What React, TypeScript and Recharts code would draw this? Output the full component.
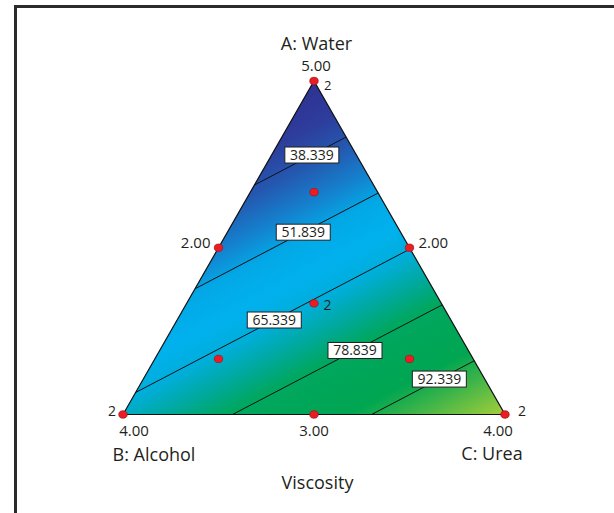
import React from 'react';
import { ComposedChart, Area, Line, Scatter, XAxis, YAxis } from 'recharts';

// mixture components and response
const TITLE_TEXT = ['A: Water', 'B: Alcohol', 'C: Urea', 'Viscosity'];

// linear mixture model: predicted viscosity at pure A, B and C
const VERTEX_VALUES = [24.8, 68.2, 105.3];
const CONTOUR_LEVELS = [38.339, 51.839, 65.339, 78.839, 92.339];

// design points as (a, b, c) fractions, with replicate counts
const DESIGN_A = [1, 0, 0, 0.5, 0.5, 0, 1 / 3, 2 / 3, 1 / 6, 1 / 6];
const DESIGN_B = [0, 1, 0, 0.5, 0, 0.5, 1 / 3, 1 / 6, 2 / 3, 1 / 6];
const DESIGN_C = [0, 0, 1, 0, 0.5, 0.5, 1 / 3, 1 / 6, 1 / 6, 2 / 3];
const DESIGN_REPS = [2, 2, 2, 1, 1, 1, 2, 1, 1, 1];

// axis values in actual units and the (a, b, c) point each one marks
const TICK_TEXT = ['5.00', '2.00', '2.00', '4.00', '3.00', '4.00'];
const TICK_A = [1, 0.5, 0.5, 0, 0, 0];
const TICK_B = [0, 0.5, 0, 1, 0.5, 0];
const TICK_C = [0, 0, 0.5, 0, 0.5, 1];

// ---- layout / style ----
const W = 614;
const HT = 513;
const MARGIN = { top: 81, right: 109, bottom: 98.5, left: 123 };
const H = Math.sqrt(3) / 2;
const FONT = '"Open Sans", "Noto Sans", sans-serif';
const INK = '#231f20';

// where the title and tick texts sit relative to their anchor (px)
const TITLE_ANCHORS = [[1, 0, 0], [0, 1, 0], [0, 0, 1], [0, 0.5, 0.5]];
const TITLE_OFFSETS = [[2.5, -31.5], [31, 46], [-13, 45], [3.5, 74]];
const TICK_OFFSETS = [
  [2, -10, 'middle'],
  [-8, 0, 'end'],
  [9, 0, 'start'],
  [11, 21, 'middle'],
  [0, 21, 'middle'],
  [-7, 21, 'middle'],
];
// position of each contour label along its line (0..1)
const LABEL_T = [0.626, 0.591, 0.505, 0.584, 0.66];

// colour scale over the response
const COLOR_STOPS: [number, string][] = [
  [24.8, '#2e3192'],
  [33, '#2e3d9c'],
  [40, '#2458b0'],
  [47, '#1580cd'],
  [53, '#03a8e6'],
  [60, '#00b1ee'],
  [66, '#00aedb'],
  [72, '#00a99f'],
  [78, '#00a75f'],
  [90, '#00a651'],
  [96, '#3db449'],
  [105.3, '#a6ce39'],
];

const toXY = (a: number, b: number, c: number) => ({ x: c + a / 2, y: a * H });
const px = (x: number) => MARGIN.left + x * (W - MARGIN.left - MARGIN.right);
const py = (y: number) => MARGIN.top + (1 - y / H) * (HT - MARGIN.top - MARGIN.bottom);

const VERTS = [toXY(1, 0, 0), toXY(0, 1, 0), toXY(0, 0, 1)];

const triangleFill = [VERTS[1], VERTS[0], VERTS[2]];
const triangleEdge = [VERTS[1], VERTS[0], VERTS[2], VERTS[1]];

// contour segments where the model crosses each level on the triangle edges
const EDGES = [[0, 1], [0, 2], [1, 2]];
const contours = CONTOUR_LEVELS.map((level) => {
  const pts: { x: number; y: number }[] = [];
  EDGES.forEach(([i, j]) => {
    const vi = VERTEX_VALUES[i];
    const vj = VERTEX_VALUES[j];
    const t = (level - vi) / (vj - vi);
    if (t >= 0 && t <= 1) {
      pts.push({
        x: VERTS[i].x + t * (VERTS[j].x - VERTS[i].x),
        y: VERTS[i].y + t * (VERTS[j].y - VERTS[i].y),
      });
    }
  });
  return pts.sort((p, q) => p.x - q.x);
});

const contourLabels = contours.map((seg, k) => ({
  x: seg[0].x + LABEL_T[k] * (seg[1].x - seg[0].x),
  y: seg[0].y + LABEL_T[k] * (seg[1].y - seg[0].y),
  text: CONTOUR_LEVELS[k].toFixed(3),
}));

const designPoints = DESIGN_A.map((a, i) => ({
  ...toXY(a, DESIGN_B[i], DESIGN_C[i]),
  reps: DESIGN_REPS[i],
}));

const tickPoints = TICK_TEXT.map((text, i) => ({
  ...toXY(TICK_A[i], TICK_B[i], TICK_C[i]),
  text,
  dx: TICK_OFFSETS[i][0],
  dy: TICK_OFFSETS[i][1],
  anchor: TICK_OFFSETS[i][2],
  size: 15,
}));

const titlePoints = TITLE_TEXT.map((text, i) => ({
  ...toXY(TITLE_ANCHORS[i][0], TITLE_ANCHORS[i][1], TITLE_ANCHORS[i][2]),
  text,
  dx: TITLE_OFFSETS[i][0],
  dy: TITLE_OFFSETS[i][1],
  anchor: 'middle',
  size: 18,
}));

// gradient runs along the direction of steepest change of the linear model
const gradientLine = () => {
  const P = VERTS.map((v) => [px(v.x), py(v.y)]);
  const [vA, vB, vC] = VERTEX_VALUES;
  const e1 = [P[1][0] - P[0][0], P[1][1] - P[0][1]];
  const e2 = [P[2][0] - P[0][0], P[2][1] - P[0][1]];
  const d1 = vB - vA;
  const d2 = vC - vA;
  const det = e1[0] * e2[1] - e1[1] * e2[0];
  const gx = (d1 * e2[1] - d2 * e1[1]) / det;
  const gy = (e1[0] * d2 - e2[0] * d1) / det;
  const vMin = Math.min(...VERTEX_VALUES);
  const vMax = Math.max(...VERTEX_VALUES);
  const g2 = gx * gx + gy * gy;
  const s0 = (vMin - vA) / g2;
  const s1 = (vMax - vA) / g2;
  return {
    x1: P[0][0] + gx * s0,
    y1: P[0][1] + gy * s0,
    x2: P[0][0] + gx * s1,
    y2: P[0][1] + gy * s1,
    vMin,
    vMax,
  };
};

const DesignDot = (props: any) => {
  const { cx, cy, payload } = props;
  const left = payload.x < 0.1;
  const top = payload.y > 0.8;
  return (
    <g>
      <ellipse cx={cx} cy={cy} rx={4.2} ry={3.7} fill="#ed1c24" stroke="#9e1b1e" strokeWidth={0.8} />
      {payload.reps > 1 && (
        <text
          x={left ? cx - 7 : cx + (payload.y === 0 ? 13 : top ? 10 : 9.5)}
          y={cy + (payload.y === 0 ? 1 : top ? 8.5 : 7)}
          textAnchor={left ? 'end' : 'start'}
          fontSize={top ? 13 : 14}
          fontFamily={FONT}
          fill={INK}
        >
          {payload.reps}
        </text>
      )}
    </g>
  );
};

const ContourLabel = (props: any) => {
  const { cx, cy, payload } = props;
  const w = 54;
  const h = 16;
  return (
    <g>
      <rect x={cx - w / 2} y={cy - h / 2} width={w} height={h} fill="#ffffff" stroke={INK} strokeWidth={1} />
      <text x={cx} y={cy + 5} textAnchor="middle" fontSize={14} fontFamily={FONT} fill={INK}>
        {payload.text}
      </text>
    </g>
  );
};

const TextMark = (props: any) => {
  const { cx, cy, payload } = props;
  return (
    <text
      x={cx + payload.dx}
      y={cy + payload.dy}
      textAnchor={payload.anchor}
      fontSize={payload.size}
      fontFamily={FONT}
      fill={INK}
    >
      {payload.text}
    </text>
  );
};

const App = () => {
  const g = gradientLine();
  return (
    <div style={{ position: 'absolute', left: 0, top: 0, width: W, height: HT, background: '#fff', overflow: 'hidden' }}>
      <div
        style={{
          position: 'absolute',
          left: 13.5,
          top: 5,
          width: 640,
          height: 540,
          borderLeft: '3px solid #2b2b2b',
          borderTop: '3px solid #2b2b2b',
        }}
      />
      <div style={{ position: 'absolute', left: 0, top: 0 }}>
        <ComposedChart width={W} height={HT} margin={MARGIN}>
          <defs>
            <linearGradient id="viscosityFill" gradientUnits="userSpaceOnUse" x1={g.x1} y1={g.y1} x2={g.x2} y2={g.y2}>
              {COLOR_STOPS.map(([v, color]) => (
                <stop key={v} offset={(v - g.vMin) / (g.vMax - g.vMin)} stopColor={color} />
              ))}
            </linearGradient>
          </defs>
          <XAxis type="number" dataKey="x" domain={[0, 1]} hide />
          <YAxis type="number" dataKey="y" domain={[0, H]} hide />
          <Area
            data={triangleFill}
            dataKey="y"
            type="linear"
            stroke="none"
            fill="url(#viscosityFill)"
            fillOpacity={1}
            isAnimationActive={false}
            activeDot={false}
          />
          {contours.map((seg, k) => (
            <Line
              key={CONTOUR_LEVELS[k]}
              data={seg}
              dataKey="y"
              type="linear"
              stroke="#111"
              strokeWidth={1}
              dot={false}
              activeDot={false}
              isAnimationActive={false}
            />
          ))}
          <Line
            data={triangleEdge}
            dataKey="y"
            type="linear"
            stroke="#111"
            strokeWidth={1.2}
            dot={false}
            activeDot={false}
            isAnimationActive={false}
          />
          <Scatter data={contourLabels} dataKey="y" shape={ContourLabel} isAnimationActive={false} />
          <Scatter data={designPoints} dataKey="y" shape={DesignDot} isAnimationActive={false} />
          <Scatter data={tickPoints} dataKey="y" shape={TextMark} isAnimationActive={false} />
          <Scatter data={titlePoints} dataKey="y" shape={TextMark} isAnimationActive={false} />
        </ComposedChart>
      </div>
    </div>
  );
};

export default App;
